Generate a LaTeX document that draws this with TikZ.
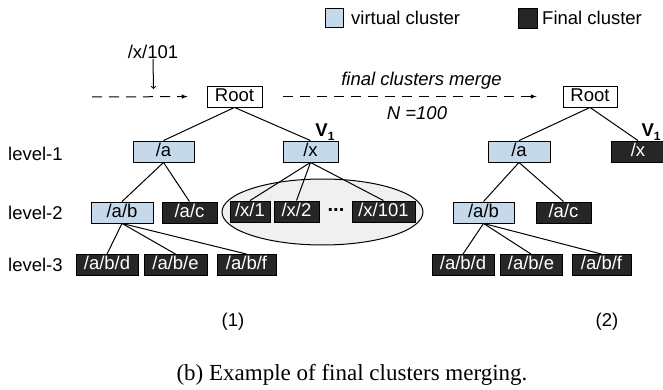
\documentclass[tikz,border=0pt]{standalone}
\usepackage{fontspec}
\setmainfont{Liberation Sans}
\newfontfamily\capfont{Liberation Serif}
\usetikzlibrary{shapes.geometric, arrows}
\definecolor{vblue}{RGB}{197,217,235}
\definecolor{fdark}{RGB}{38,38,38}

\begin{document}
\begin{tikzpicture}[x=1pt,y=-1pt,
  every node/.style={font=\fontsize{18.5}{20}\selectfont, inner sep=0pt},
  box/.style={draw=black, line width=0.9pt, minimum height=21pt, text height=13pt, text depth=3.5pt},
  vbox/.style={box, fill=vblue},
  fbox/.style={box, fill=fdark, text=white},
  rbox/.style={box, fill=white},
  edge/.style={line width=1pt},
  flow/.style={line width=1pt, dash pattern=on 10pt off 7pt, -latex}]
  \useasboundingbox (0,0) rectangle (663,390);

  % legend
  \node[vbox, minimum width=18pt, minimum height=19pt] (lgv) at (334,17.5) {};
  \node[anchor=west] (lgvt) at (351,18) {virtual cluster};
  \node[fbox, minimum width=19pt, minimum height=20pt] (lgf) at (527.5,18) {};
  \node[anchor=west] (lgft) at (542,18) {Final cluster};

  % level labels
  \node[anchor=west] (l1) at (8,154) {level-1};
  \node[anchor=west] (l2) at (8,213) {level-2};
  \node[anchor=west] (l3) at (8,265) {level-3};

  % (1)
  \node[ellipse, draw=black, line width=1pt, fill=gray!12, minimum width=201pt, minimum height=66pt] (grp) at (322.5,212) {};
  \node[rbox, minimum width=55pt] (root1) at (234.5,96.5) {Root};
  \node[vbox, minimum width=61pt] (a1) at (163.5,151.5) {/a};
  \node[vbox, minimum width=55pt] (x1) at (310.5,151.5) {/x};
  \node (v1) at (325,132) {\bfseries V\raisebox{-0.35ex}{\fontsize{12}{12}\selectfont 1}};
  \node[vbox, minimum width=62pt] (ab1) at (122,212.5) {/a/b};
  \node[fbox, minimum width=55pt] (ac1) at (189.5,212.5) {/a/c};
  \node[fbox, minimum width=40pt] (x11) at (250,211.5) {/x/1};
  \node[fbox, minimum width=45pt] (x12) at (296.5,211.5) {/x/2};
  \node (dots) at (336,210) {\bfseries\fontsize{20}{20}\selectfont ...};
  \node[fbox, minimum width=63pt] (x101) at (383.5,211.5) {/x/101};
  \node[fbox, minimum width=62pt] (abd1) at (107,265) {/a/b/d};
  \node[fbox, minimum width=63pt] (abe1) at (175.5,265) {/a/b/e};
  \node[fbox, minimum width=59pt] (abf1) at (246.5,265) {/a/b/f};
  \node (n1) at (233,322) {(1)};

  \draw[edge] (root1.south) -- (a1.north);
  \draw[edge] (root1.south) -- (x1.north);
  \draw[edge] (a1.south) -- (ab1.north);
  \draw[edge] (a1.south) -- (ac1.north);
  \draw[edge] (x1.south) -- (x11.north);
  \draw[edge] (x1.south) -- (x12.north);
  \draw[edge] (x1.south) -- (x101.north);
  \draw[edge] (ab1.south) -- (abd1.north);
  \draw[edge] (ab1.south) -- (abe1.north);
  \draw[edge] (ab1.south) -- (abf1.north);

  % incoming cluster
  \node (xin) at (153,52) {/x/101};
  \coordinate (xdown) at (153.5,89);
  \draw[line width=1pt, ->] (xin.south) -- (xdown);
  \coordinate (start) at (92,97);
  \draw[flow, shorten >=19pt] (start) -- (root1.west);

  % merge
  \node[rbox, minimum width=54pt] (root2) at (590,96.5) {Root};
  \draw[flow, shorten <=21pt, shorten >=26pt] (root1.east) -- (root2.west);
  \node (merge) at (421.5,81) {\itshape final clusters merge};
  \node (nval) at (417,113) {\itshape N =100};

  % (2)
  \node[vbox, minimum width=62pt] (a2) at (519,151.5) {/a};
  \node[fbox, minimum width=54pt] (x2) at (638,151.5) {/x};
  \node (v2) at (651,132) {\bfseries V\raisebox{-0.35ex}{\fontsize{12}{12}\selectfont 1}};
  \node[vbox, minimum width=61pt] (ab2) at (483.5,212.5) {/a/b};
  \node[fbox, minimum width=55pt] (ac2) at (563.5,212.5) {/a/c};
  \node[fbox, minimum width=62pt] (abd2) at (463,265) {/a/b/d};
  \node[fbox, minimum width=62pt] (abe2) at (531,265) {/a/b/e};
  \node[fbox, minimum width=59pt] (abf2) at (601.5,265) {/a/b/f};
  \node (n2) at (607,322) {(2)};

  \draw[edge] (root2.south) -- (a2.north);
  \draw[edge] (root2.south) -- (x2.north);
  \draw[edge] (a2.south) -- (ab2.north);
  \draw[edge] (a2.south) -- (ac2.north);
  \draw[edge] (ab2.south) -- (abd2.north);
  \draw[edge] (ab2.south) -- (abe2.north);
  \draw[edge] (ab2.south) -- (abf2.north);

  \node[font=\capfont\fontsize{23}{26}\selectfont] (cap) at (352,375) {(b) Example of final clusters merging.};
\end{tikzpicture}
\end{document}
